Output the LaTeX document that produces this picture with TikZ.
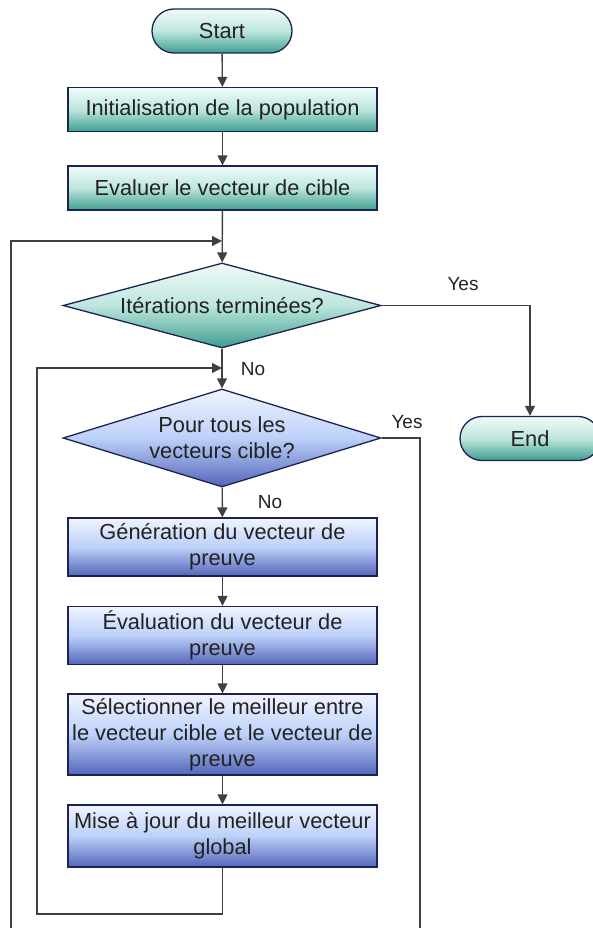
\documentclass[tikz,border=0pt]{standalone}
\usepackage{fontspec}
\setmainfont{Liberation Sans}
\usetikzlibrary{shapes.geometric,arrows.meta}

\definecolor{navyline}{HTML}{1B2352}
\definecolor{linegray}{HTML}{404040}
\definecolor{txtcol}{HTML}{222222}
\definecolor{tealtop}{HTML}{F0FBF8}
\definecolor{tealmid}{HTML}{BDE6DE}
\definecolor{tealbot}{HTML}{3E9E8E}
\definecolor{bluetop}{HTML}{F0F4FF}
\definecolor{bluemid}{HTML}{BCD0F8}
\definecolor{bluebot}{HTML}{5465BA}

\tikzset{
  base/.style={draw=navyline, line width=1.3pt, text=txtcol, align=center,
    inner sep=0pt, font=\fontsize{21.8}{26}\selectfont},
  tealfill/.style={top color=tealtop, bottom color=tealbot, middle color=tealmid},
  bluefill/.style={top color=bluetop, bottom color=bluebot, middle color=bluemid},
  term/.style={base, tealfill, rounded corners=22pt, minimum width=140pt, minimum height=44pt},
  greenbox/.style={base, tealfill, minimum width=309pt, minimum height=44pt},
  bluebox/.style={base, bluefill, minimum width=309pt},
  decision/.style={base, diamond, minimum width=318pt},
  line/.style={draw=linegray, line width=1.4pt},
  arrow/.style={line, -{Triangle[length=10pt,width=10pt]}},
  lbl/.style={text=txtcol, font=\fontsize{19}{22}\selectfont},
}

\begin{document}
\begin{tikzpicture}[x=1pt, y=-1pt]
    \useasboundingbox (0,0) rectangle (592,928);
    % Terminals and first steps
    \node[term] (start) at (222,31) {Start};
    \node[greenbox] (init) at (222.5,109.5) {Initialisation de la population};
    \node[greenbox] (evalt) at (222.5,188) {Evaluer le vecteur de cible};
    % Decisions
    \node[decision, tealfill, minimum height=85pt, aspect=3.74] (iter) at (222,305.5) {Itérations terminées?};
    \node[decision, bluefill, minimum height=98pt, aspect=3.24] (allvec) at (222,438) {Pour tous les\\vecteurs cible?};
    \node[term] (stop) at (530,438.5) {End};
    % Inner loop steps
    \node[bluebox, minimum height=58pt] (gen) at (222.5,547) {Génération du vecteur de\\preuve};
    \node[bluebox, minimum height=58pt] (evalp) at (222.5,635.5) {Évaluation du vecteur de\\preuve};
    \node[bluebox, minimum height=81pt] (select) at (222.5,734.5) {Sélectionner le meilleur entre\\le vecteur cible et le vecteur de\\preuve};
    \node[bluebox, minimum height=62pt] (update) at (222.5,836) {Mise à jour du meilleur vecteur\\global};
    % Free ends of the loops
    \coordinate (join1) at (222,241);
    \coordinate (join2) at (222,368);
    \coordinate (cutL) at (11,930);
    \coordinate (cutR) at (420,930);
    \coordinate (loopL) at (37,914);
    % Straight flow
    \draw[arrow] (start) -- (init);
    \draw[arrow] (init) -- (evalt);
    \draw[arrow] (evalt) -- (iter);
    \draw[arrow] (iter) -- (allvec);
    \draw[arrow] (allvec) -- (gen);
    \draw[arrow] (gen) -- (evalp);
    \draw[arrow] (evalp) -- (select);
    \draw[arrow] (select) -- (update);
    % Branches
    \draw[arrow] (iter.east) -| (stop.north);
    \draw[line] (allvec.east) -| (cutR);
    \draw[arrow] (cutL) |- (join1);
    \draw[arrow] (update.south) |- (loopL) |- (join2);
    % Labels
    \node[lbl] (yes1) at (463,284) {Yes};
    \node[lbl] (no1) at (253,369) {No};
    \node[lbl] (yes2) at (407,422) {Yes};
    \node[lbl] (no2) at (270,502) {No};
\end{tikzpicture}
\end{document}
